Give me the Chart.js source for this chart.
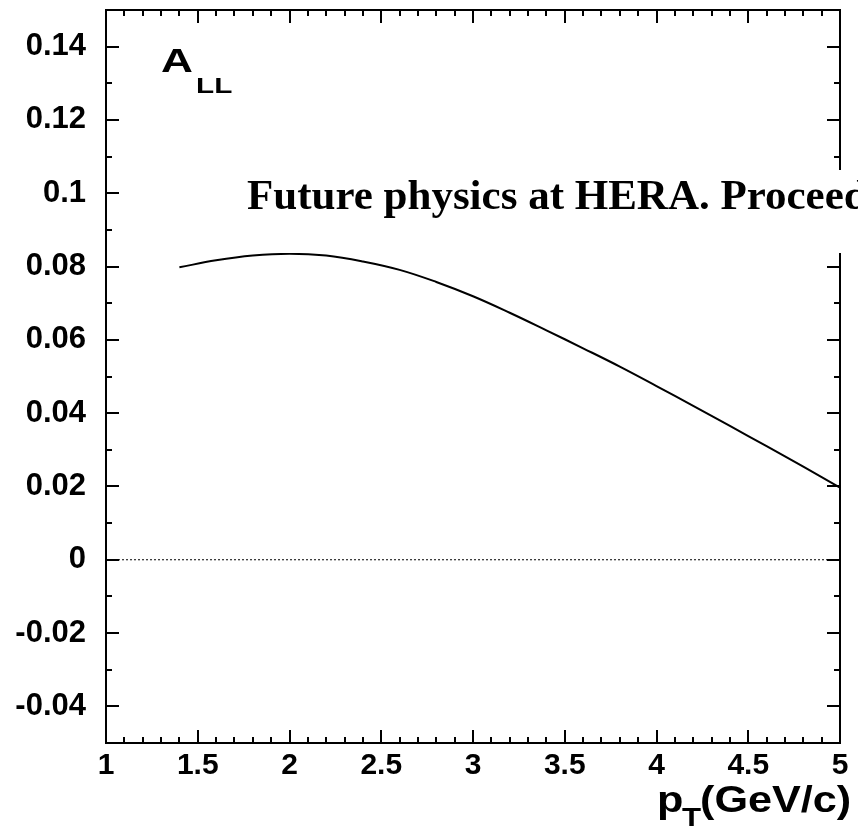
<!DOCTYPE html>
<html>
<head>
<meta charset="utf-8">
<script src="https://cdn.jsdelivr.net/npm/chart.js@4/dist/chart.umd.min.js"></script>
<style>
  html, body { margin: 0; padding: 0; background: #fff; }
  canvas { display: block; }
</style>
</head>
<body>
<canvas id="myChart" width="858" height="830"></canvas>
<script>
"use strict";

// asymmetry curve A_LL vs pT
const ptValues = [1.4, 1.6, 1.8, 2.0, 2.2, 2.4, 2.6, 2.8, 3.0, 3.2, 3.4, 3.6, 3.8, 4.0, 4.2, 4.4, 4.6, 4.8, 5.0];
const allValues = [0.0798, 0.0817, 0.0830, 0.0835, 0.0830, 0.0814, 0.0791, 0.0758, 0.0719, 0.0674, 0.0626, 0.0577, 0.0527, 0.0474, 0.0420, 0.0365, 0.0310, 0.0254, 0.0197];

const xTickLabels = [1, 1.5, 2, 2.5, 3, 3.5, 4, 4.5, 5];
const yTickLabels = [-0.04, -0.02, 0, 0.02, 0.04, 0.06, 0.08, 0.1, 0.12, 0.14];

function stretchedText(ctx, txt, x, y, size, sx) {
  ctx.save();
  ctx.translate(x, y);
  ctx.scale(sx, 1);
  ctx.font = "bold " + size + "px 'Liberation Sans', Arial, sans-serif";
  ctx.fillText(txt, 0, 0);
  ctx.restore();
}

// frame, inward ticks on all four sides, labels and the overlay note
const framePlugin = {
  id: 'framePlugin',
  afterDraw(chart) {
    const ctx = chart.ctx;
    const a = chart.chartArea;
    const xs = chart.scales.x, ys = chart.scales.y;
    ctx.save();
    ctx.strokeStyle = '#000';
    ctx.lineWidth = 2;
    ctx.strokeRect(a.left, a.top, a.right - a.left, a.bottom - a.top);

    ctx.beginPath();
    for (let i = 10; i <= 50; i++) {
      const px = Math.round(xs.getPixelForValue(i / 10));
      const len = (i % 5 === 0) ? 13 : 6;
      ctx.moveTo(px, a.bottom); ctx.lineTo(px, a.bottom - len);
      ctx.moveTo(px, a.top); ctx.lineTo(px, a.top + len);
    }
    for (let j = -5; j <= 15; j++) {
      const py = Math.round(ys.getPixelForValue(j / 100));
      const len = (j % 2 === 0) ? 13 : 6;
      ctx.moveTo(a.left, py); ctx.lineTo(a.left + len, py);
      ctx.moveTo(a.right, py); ctx.lineTo(a.right - len, py);
    }
    ctx.stroke();

    ctx.fillStyle = '#000';
    ctx.textAlign = 'left';
    ctx.textBaseline = 'alphabetic';
    // y title
    stretchedText(ctx, 'A', 161, 72, 34, 1.3);
    stretchedText(ctx, 'LL', 196, 93, 22, 1.35);
    // x title
    stretchedText(ctx, 'p', 657, 812, 36, 1.2);
    stretchedText(ctx, 'T', 682, 826, 26, 1.2);
    stretchedText(ctx, '(GeV/c)', 700, 812, 36, 1.2);

    // overlay note on a white box
    ctx.fillStyle = '#fff';
    ctx.fillRect(240, 170, 858 - 240, 83);
    ctx.fillStyle = '#000';
    ctx.font = "bold 43px 'Liberation Serif', 'Times New Roman', serif";
    ctx.fillText('Future physics at HERA. Proceed', 247, 209);
    ctx.restore();
  }
};

function createChart() {
  const points = [];
  for (let i = 0; i < ptValues.length; i++) {
    points.push({ x: ptValues[i], y: allValues[i] });
  }

  const el = document.getElementById("myChart").getContext("2d");
  return new Chart(el, {
    type: 'line',
    data: {
      datasets: [{
        data: points,
        borderColor: '#000',
        borderWidth: 2,
        pointRadius: 0,
        fill: false,
        tension: 0.4
      }, {
        data: [{ x: 1, y: 0 }, { x: 5, y: 0 }],
        borderColor: '#000',
        borderWidth: 1,
        borderDash: [2, 2],
        pointRadius: 0,
        fill: false
      }]
    },
    options: {
      responsive: false,
      animation: false,
      layout: { padding: { top: 10, right: 18, left: 0, bottom: 0 } },
      plugins: { legend: { display: false }, tooltip: { enabled: false } },
      scales: {
        x: {
          type: 'linear',
          min: 1,
          max: 5,
          grid: { display: false, drawTicks: false },
          border: { display: false },
          afterBuildTicks: (s) => { s.ticks = xTickLabels.map(v => ({ value: v })); },
          afterFit: (s) => { s.height = 87; s.paddingLeft = 0; s.paddingRight = 0; },
          ticks: {
            color: '#000',
            font: { family: "'Liberation Sans', Arial, sans-serif", size: 30, weight: 'bold' },
            padding: 5,
            maxRotation: 0,
            autoSkip: false,
            callback: (v) => String(v)
          }
        },
        y: {
          min: -0.05,
          max: 0.15,
          grid: { display: false, drawTicks: false },
          border: { display: false },
          afterBuildTicks: (s) => { s.ticks = yTickLabels.map(v => ({ value: v })); },
          afterFit: (s) => { s.width = 106; s.paddingTop = 0; s.paddingBottom = 0; },
          ticks: {
            color: '#000',
            font: { family: "'Liberation Sans', Arial, sans-serif", size: 31, weight: 'bold' },
            padding: 20,
            autoSkip: false,
            callback: (v) => String(Math.round(v * 100) / 100)
          }
        }
      }
    },
    plugins: [framePlugin]
  });
}

createChart();
</script>
</body>
</html>
